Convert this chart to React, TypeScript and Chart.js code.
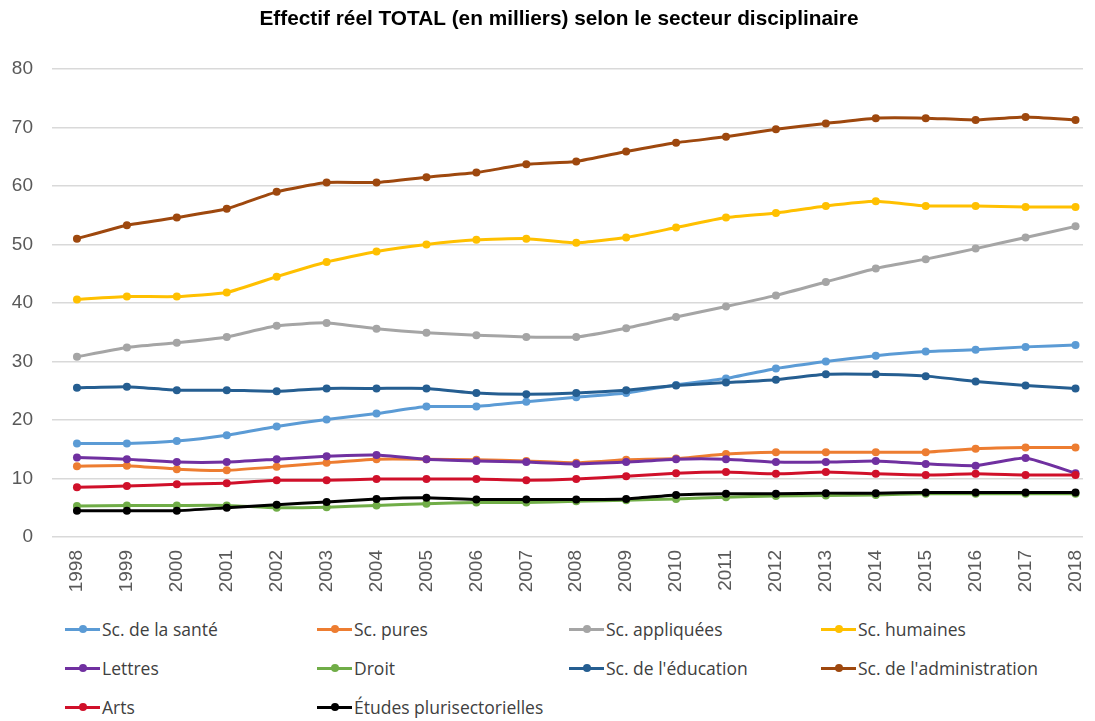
import React, { useEffect, useRef } from "react";
import { Chart, registerables } from "chart.js";
Chart.register(...registerables);

const titleText = "Effectif réel TOTAL (en milliers) selon le secteur disciplinaire";
const years = [1998, 1999, 2000, 2001, 2002, 2003, 2004, 2005, 2006, 2007, 2008, 2009, 2010, 2011, 2012, 2013, 2014, 2015, 2016, 2017, 2018];

const sante = [16.0, 16.0, 16.4, 17.4, 18.9, 20.1, 21.1, 22.3, 22.3, 23.1, 23.9, 24.6, 26.0, 27.1, 28.8, 30.0, 31.0, 31.7, 32.0, 32.5, 32.8];
const pures = [12.1, 12.2, 11.6, 11.4, 12.0, 12.7, 13.3, 13.3, 13.2, 13.0, 12.7, 13.2, 13.4, 14.2, 14.5, 14.5, 14.5, 14.5, 15.1, 15.3, 15.3];
const appliquees = [30.8, 32.4, 33.2, 34.2, 36.1, 36.6, 35.6, 34.9, 34.5, 34.2, 34.2, 35.7, 37.6, 39.4, 41.3, 43.6, 45.9, 47.5, 49.3, 51.2, 53.1];
const humaines = [40.6, 41.1, 41.1, 41.8, 44.5, 47.0, 48.8, 50.0, 50.8, 51.0, 50.3, 51.2, 52.9, 54.6, 55.4, 56.6, 57.4, 56.6, 56.6, 56.4, 56.4];
const lettres = [13.6, 13.3, 12.8, 12.8, 13.3, 13.8, 14.0, 13.3, 13.0, 12.8, 12.5, 12.8, 13.3, 13.3, 12.8, 12.8, 13.0, 12.5, 12.2, 13.5, 10.9];
const droit = [5.3, 5.4, 5.4, 5.4, 5.0, 5.1, 5.4, 5.7, 5.9, 5.9, 6.1, 6.3, 6.5, 6.8, 7.0, 7.1, 7.2, 7.4, 7.4, 7.4, 7.4];
const education = [25.5, 25.7, 25.1, 25.1, 24.9, 25.4, 25.4, 25.4, 24.6, 24.4, 24.6, 25.1, 25.9, 26.4, 26.9, 27.8, 27.8, 27.5, 26.6, 25.9, 25.4];
const administration = [51.0, 53.3, 54.6, 56.1, 59.0, 60.6, 60.6, 61.5, 62.3, 63.7, 64.2, 65.9, 67.4, 68.4, 69.7, 70.7, 71.6, 71.6, 71.3, 71.8, 71.3];
const arts = [8.5, 8.7, 9.0, 9.2, 9.7, 9.7, 9.9, 9.9, 9.9, 9.7, 9.9, 10.4, 10.9, 11.1, 10.8, 11.1, 10.8, 10.6, 10.8, 10.6, 10.6];
const etudes = [4.5, 4.5, 4.5, 5.0, 5.5, 6.0, 6.5, 6.7, 6.4, 6.4, 6.4, 6.5, 7.2, 7.4, 7.4, 7.5, 7.5, 7.6, 7.6, 7.6, 7.6];

const seriesNames = ["Sc. de la santé", "Sc. pures", "Sc. appliquées", "Sc. humaines", "Lettres", "Droit", "Sc. de l'éducation", "Sc. de l'administration", "Arts", "Études plurisectorielles"];
const seriesValues = [sante, pures, appliquees, humaines, lettres, droit, education, administration, arts, etudes];
const seriesColors = ["#5B9BD5", "#ED7D31", "#A5A5A5", "#FFC000", "#7030A0", "#70AD47", "#255E91", "#9E480E", "#D0102A", "#000000"];

const FONT = "'Liberation Sans', Arial, sans-serif";
const LEGEND_FONT = "'Open Sans', 'Liberation Sans', sans-serif";

const titlePlugin = {
  id: "customTitle",
  afterDraw(chart: any) {
    const ctx = chart.ctx;
    ctx.save();
    ctx.font = `bold 20.8px ${FONT}`;
    ctx.fillStyle = "#000000";
    ctx.textAlign = "center";
    ctx.textBaseline = "middle";
    ctx.fillText(titleText, 551, 11);
    ctx.restore();
  },
};

export default function App() {
  const ref = useRef<HTMLCanvasElement | null>(null);

  useEffect(() => {
    if (!ref.current) return;
    const chart = new Chart(ref.current, {
      type: "line",
      data: {
        datasets: seriesNames.map((name, i) => ({
          label: name,
          data: years.map((x, j) => ({ x, y: seriesValues[i][j] })),
          borderColor: seriesColors[i],
          backgroundColor: seriesColors[i],
          borderWidth: 3,
          pointRadius: 4,
          pointBorderWidth: 0,
          pointBackgroundColor: seriesColors[i],
          tension: 0.15,
          order: -i,
        })),
      },
      plugins: [titlePlugin],
      options: {
        animation: false,
        responsive: false,
        layout: { padding: { top: 61, right: 0, left: 0, bottom: 0 } },
        plugins: {
          legend: { display: false },
          tooltip: { enabled: false },
          title: { display: false },
        },
        scales: {
          x: {
            type: "linear",
            min: 1997.5,
            max: 2018.15,
            grid: { display: false, drawTicks: false },
            border: { display: false },
            afterBuildTicks: (scale: any) => {
              scale.ticks = years.map((v) => ({ value: v }));
            },
            afterFit: (scale: any) => {
              scale.height = 71;
              scale.paddingLeft = 0;
              scale.paddingRight = 0;
            },
            ticks: {
              autoSkip: false,
              minRotation: 90,
              maxRotation: 90,
              padding: 13,
              color: "#595959",
              font: { family: FONT, size: 19 },
              callback: (v: any) => String(v),
            },
          },
          y: {
            min: 0,
            max: 80,
            grid: { color: "#D9D9D9", lineWidth: 1.5, drawTicks: false },
            border: { display: false },
            afterFit: (scale: any) => {
              scale.width = 44;
              scale.paddingTop = 0;
              scale.paddingBottom = 0;
            },
            ticks: {
              stepSize: 10,
              padding: 19,
              color: "#595959",
              font: { family: FONT, size: 19 },
            },
          },
        },
      },
    });
    return () => chart.destroy();
  }, []);

  return (
    <div style={{ width: 1079, position: "relative" }}>
      <canvas ref={ref} width={1079} height={600} style={{ display: "block" }} />
      <div style={{ position: "relative", height: 113 }}>
        {seriesNames.map((name, i) => {
          const col = i % 4;
          const row = Math.floor(i / 4);
          return (
            <div
              key={name}
              style={{
                position: "absolute",
                left: 57 + col * 252,
                top: 9 + row * 39,
                height: 24,
                display: "flex",
                alignItems: "center",
                whiteSpace: "nowrap",
              }}
            >
              <div style={{ position: "relative", width: 35, height: 24, marginRight: 2 }}>
                <div style={{ position: "absolute", left: 0, top: 10.5, width: 35, height: 3, background: seriesColors[i] }} />
                <div style={{ position: "absolute", left: 13.5, top: 8, width: 8, height: 8, borderRadius: 4, background: seriesColors[i] }} />
              </div>
              <span style={{ fontFamily: LEGEND_FONT, fontSize: 17.5, color: "#404040" }}>{name}</span>
            </div>
          );
        })}
      </div>
    </div>
  );
}
